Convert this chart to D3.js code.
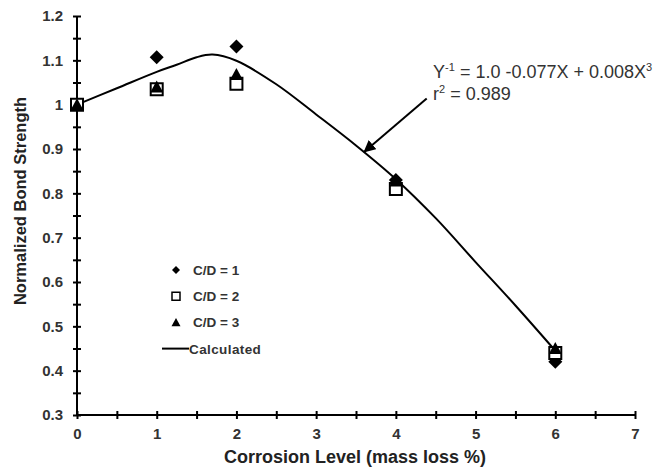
<!DOCTYPE html>
<html>
<head>
<meta charset="utf-8">
<script src="https://cdn.jsdelivr.net/npm/d3@7"></script>
<style>
  body { margin: 0; background: #fff; }
  svg { font-family: "Liberation Sans", Arial, sans-serif; }
  .tick text { font-size: 15px; font-weight: bold; fill: #333; }
  .axis path, .axis line { stroke: #000; stroke-width: 2; }
  .curve { fill: none; stroke: #000; stroke-width: 2; }
</style>
</head>
<body>
<svg width="659" height="469"></svg>
<script>
// values
var levels = [0, 1, 2, 4, 6];
var cd1 = [1.0, 1.107, 1.131, 0.83, 0.42];
var cd2 = [1.0, 1.035, 1.047, 0.81, 0.44];
var cd3 = [1.0, 1.04, 1.068, 0.828, 0.45];

// calculated curve
var calcX = [0, 0.5, 1, 1.25, 1.5, 1.7, 2, 2.5, 3, 3.5, 4, 4.5, 5, 5.5, 6];
var calcY = [1.0, 1.037, 1.074, 1.09, 1.107, 1.113, 1.099, 1.046, 0.978, 0.908, 0.832, 0.744, 0.645, 0.547, 0.445];

var xTicks = [0, 1, 2, 3, 4, 5, 6, 7];
var xMinor = [0.5, 1.5, 2.5, 3.5, 4.5, 5.5, 6.5];
var yTicks = [0.3, 0.4, 0.5, 0.6, 0.7, 0.8, 0.9, 1.0, 1.1, 1.2];
var yMinor = [0.35, 0.45, 0.55, 0.65, 0.75, 0.85, 0.95, 1.05, 1.15];

var legendLabels = ["C/D = 1", "C/D = 2", "C/D = 3", "Calculated"];

var svg = d3.select("svg");

var xScale = d3.scaleLinear().domain([0, 7]).range([77, 635]),
    yScale = d3.scaleLinear().domain([0.3, 1.2]).range([415, 16]);

// shapes
function diamond(s) { return "M0," + (-s) + "L" + s + ",0L0," + s + "L" + (-s) + ",0Z"; }
function square(s) { return "M" + (-s) + "," + (-s) + "H" + s + "V" + s + "H" + (-s) + "Z"; }
function triangle(s) { return "M0," + (-s) + "L" + s + "," + (s * 0.85) + "L" + (-s) + "," + (s * 0.85) + "Z"; }

// axes with ticks crossing the line
function crossTicks(g, horizontal) {
  g.selectAll(".tick line")
    .attr(horizontal ? "y1" : "x1", -4)
    .attr(horizontal ? "y2" : "x2", 4);
}

var xAxis = svg.append("g")
    .attr("class", "axis")
    .attr("transform", "translate(0," + yScale(0.3) + ")")
    .call(d3.axisBottom(xScale).tickValues(xTicks.concat(xMinor))
        .tickSizeOuter(0).tickSizeInner(4).tickPadding(9)
        .tickFormat(d => Number.isInteger(d) ? d : ""));
crossTicks(xAxis, true);
xAxis.select(".domain").attr("d", "M" + xScale(0) + ",0H" + xScale(7));

var yAxis = svg.append("g")
    .attr("class", "axis")
    .attr("transform", "translate(" + xScale(0) + ",0)")
    .call(d3.axisLeft(yScale).tickValues(yTicks.concat(yMinor))
        .tickSizeOuter(0).tickSizeInner(4).tickPadding(10)
        .tickFormat(d => yTicks.indexOf(d) >= 0 ? String(+d.toFixed(1)) : ""));
crossTicks(yAxis, false);
yAxis.select(".domain").attr("d", "M0," + yScale(0.3) + "V" + yScale(1.2));

// axis titles
svg.append("text")
    .attr("x", 355).attr("y", 463)
    .attr("text-anchor", "middle")
    .style("font-size", "18px").style("font-weight", "bold").style("fill", "#222")
    .text("Corrosion Level (mass loss %)");

svg.append("text")
    .attr("transform", "translate(26,201) rotate(-90)")
    .attr("text-anchor", "middle")
    .style("font-size", "16.5px").style("font-weight", "bold").style("fill", "#222")
    .text("Normalized Bond Strength");

// calculated curve
var line = d3.line()
    .x((d, i) => xScale(calcX[i]))
    .y(d => yScale(d))
    .curve(d3.curveCatmullRom);

svg.append("path")
    .datum(calcY)
    .attr("class", "curve")
    .attr("d", line);

// points
function plotSeries(values, shape, size, fill) {
  svg.append("g").selectAll("path")
      .data(values)
    .enter().append("path")
      .attr("transform", (d, i) => "translate(" + xScale(levels[i]) + "," + yScale(d) + ")")
      .attr("d", shape(size))
      .attr("fill", fill)
      .attr("stroke", "#000")
      .attr("stroke-width", fill === "#fff" ? 2 : 0);
}
plotSeries(cd1, diamond, 7, "#000");
plotSeries(cd2, square, 6, "#fff");
plotSeries(cd3, triangle, 6.5, "#000");

// annotation
var ann = svg.append("text")
    .attr("x", xScale(4.467)).attr("y", yScale(1.06))
    .style("font-size", "18px").style("fill", "#333");
ann.append("tspan").text("Y");
ann.append("tspan").attr("dy", -7).style("font-size", "11px").text("-1");
ann.append("tspan").attr("dy", 7).text(" = 1.0 -0.077X + 0.008X");
ann.append("tspan").attr("dy", -7).style("font-size", "11px").text("3");

var ann2 = svg.append("text")
    .attr("x", xScale(4.467)).attr("y", yScale(1.01))
    .style("font-size", "18px").style("fill", "#333");
ann2.append("tspan").text("r");
ann2.append("tspan").attr("dy", -7).style("font-size", "11px").text("2");
ann2.append("tspan").attr("dy", 7).text(" = 0.989");

svg.append("defs").append("marker")
    .attr("id", "arrow")
    .attr("viewBox", "0 0 10 10")
    .attr("refX", 9).attr("refY", 5)
    .attr("markerWidth", 6).attr("markerHeight", 6)
    .attr("orient", "auto")
  .append("path")
    .attr("d", "M0,0L10,5L0,10Z")
    .attr("fill", "#000");

svg.append("line")
    .attr("x1", xScale(4.387)).attr("y1", yScale(1.014))
    .attr("x2", xScale(3.605)).attr("y2", yScale(0.894))
    .attr("stroke", "#000").attr("stroke-width", 2)
    .attr("marker-end", "url(#arrow)");

// legend
var legend = svg.append("g").attr("transform", "translate(176,270)");
var legShapes = [diamond(4), square(4), triangle(4.5)];
var legFills = ["#000", "#fff", "#000"];

legendLabels.forEach(function(lbl, i) {
  var row = legend.append("g").attr("transform", "translate(0," + (i * 26.2) + ")");
  if (i < 3) {
    row.append("path")
        .attr("d", legShapes[i])
        .attr("fill", legFills[i])
        .attr("stroke", "#000")
        .attr("stroke-width", i === 1 ? 1.5 : 0);
    row.append("text").attr("x", 17).attr("y", 5)
        .style("font-size", "13.5px").style("font-weight", "bold").style("fill", "#333")
        .text(lbl);
  } else {
    row.append("line").attr("x1", -14).attr("x2", 13).attr("y1", 0).attr("y2", 0)
        .attr("stroke", "#000").attr("stroke-width", 2);
    row.append("text").attr("x", 13).attr("y", 5)
        .style("font-size", "13.5px").style("font-weight", "bold").style("fill", "#333")
        .style("letter-spacing", "0.4px")
        .text(lbl);
  }
});
</script>
</body>
</html>
